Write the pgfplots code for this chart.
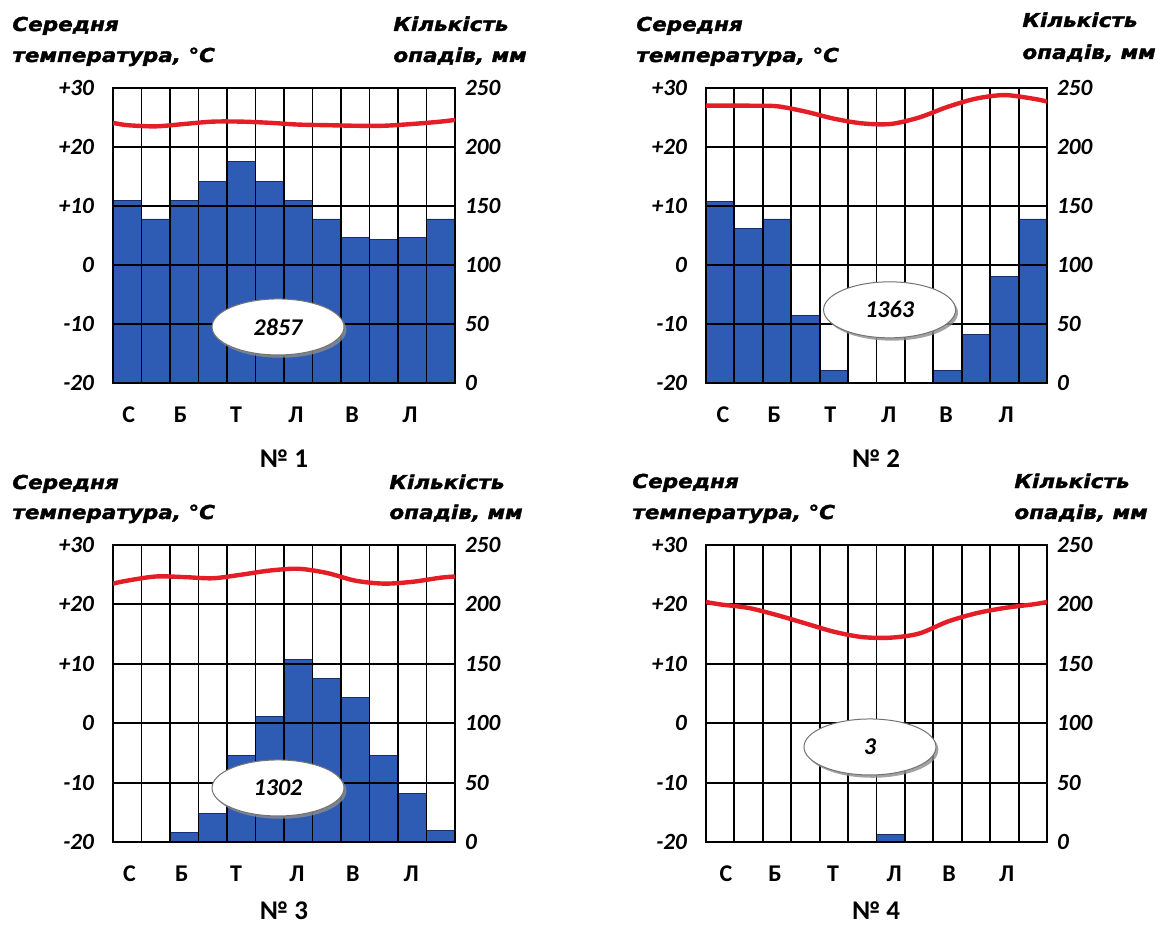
\documentclass[border=0pt]{standalone}
\usepackage{pgfplots}
\pgfplotsset{compat=1.18}
\usetikzlibrary{shapes.geometric,shadows}
\usepackage{fontspec}
\setmainfont{Carlito}
\newfontfamily\hdrfont[FakeStretch=1.12, FakeBold=1.6]{DejaVu Sans}
\newfontfamily\calfont{Carlito}
\definecolor{barblue}{RGB}{46,92,180}
\definecolor{baredge}{RGB}{25,45,110}
\definecolor{tline}{RGB}{228,30,38}
\newcommand{\hdr}{\hdrfont\bfseries\itshape\fontsize{9.6}{10}\selectfont}
\newcommand{\tickf}{\calfont\bfseries\itshape\fontsize{11.6}{12}\selectfont}
\newcommand{\monf}{\calfont\bfseries\fontsize{12}{13}\selectfont}
\newcommand{\numf}{\calfont\bfseries\fontsize{13.5}{15}\selectfont}
\newcommand{\ellf}{\calfont\bfseries\itshape\fontsize{12}{13}\selectfont}
\tikzset{
  oval/.style={ellipse, draw=black!55, line width=0.5pt, fill=white, minimum width=66pt, minimum height=28pt,
    inner sep=0pt, font=\ellf, drop shadow={shadow xshift=1.2pt, shadow yshift=-1.4pt, fill=black!45, opacity=0.8}}
}
\pgfplotsset{
  precip/.style={scale only axis, enlargelimits=false, xmin=0, xmax=12, ymin=0, ymax=250,
    hide x axis, axis y line*=right, ytick={0,50,...,250},
    yticklabels={0,50,100,150,200,250}, major tick length=0pt,
    yticklabel style={font=\tickf, anchor=west, xshift=1.5pt},
    axis line style={black, line width=1.2pt}},
  temp/.style={scale only axis, enlargelimits=false, xmin=0, xmax=12, ymin=-20, ymax=30,
    xtick={0,...,12}, xticklabels={}, ytick={-20,-10,...,30},
    yticklabels={-20,-10,0,+10,+20,+30},
    xtick pos=bottom, ytick pos=left,
    grid=major, major grid style={black, line width=0.95pt},
    axis line style={black, line width=1.2pt}, major tick length=0pt,
    yticklabel style={font=\tickf, anchor=east, xshift=-6pt},
    extra x tick labels={С,Б,Т,Л,В,Л},
    extra x tick style={grid=none, major tick length=0pt, xticklabel style={font=\monf, yshift=-8.5pt}}},
  bars/.style={ybar interval, fill=barblue, draw=baredge, line width=0.4pt},
  tcurve/.style={tline, line width=2.2pt, smooth, tension=0.5}
}
\begin{document}
\begin{tikzpicture}
\useasboundingbox (0pt,0pt) rectangle (585pt,463.5pt);
% ---------- Chart 1 ----------
\begin{axis}[precip, at={(56.5pt,272pt)}, anchor=south west, width=171pt, height=147.5pt]
\addplot[bars] coordinates {(0,155) (1,139) (2,155) (3,171) (4,188) (5,171) (6,155) (7,139) (8,123) (9,122) (10,123) (11,139) (12,139)};
\end{axis}
\begin{axis}[temp, at={(56.5pt,272pt)}, anchor=south west, width=171pt, height=147.5pt,
  extra x ticks={0.55,2.37,4.32,6.42,8.39,10.42}]
\addplot[tcurve] coordinates {(0,24.1) (0.5,23.7) (1.5,23.5) (2.5,23.9) (3.5,24.3) (4.5,24.3) (5.5,24.1) (6.5,23.8) (7.5,23.7) (8.5,23.6) (9.5,23.6) (10.5,23.9) (11.5,24.3) (12,24.6)};
\node[oval] at (axis cs:5.79,-10.5) {2857};
\end{axis}
\node[anchor=base west, inner sep=0pt, font=\hdr] at (6pt,448pt) {Середня};
\node[anchor=base west, inner sep=0pt, font=\hdr] at (6pt,432.5pt) {температура, °C};
\node[anchor=base west, inner sep=0pt, font=\hdr] at (196.5pt,448pt) {Кількість};
\node[anchor=base west, inner sep=0pt, font=\hdr] at (196.5pt,432.5pt) {опадів, мм};
\node[inner sep=0pt, font=\numf] at (142pt,234pt) {№ 1};
% ---------- Chart 2 ----------
\begin{axis}[precip, at={(353pt,272pt)}, anchor=south west, width=170.5pt, height=147.5pt]
\addplot[bars] coordinates {(0,154) (1,131) (2,139) (3,57) (4,11) (5,0) (6,0) (7,0) (8,11) (9,41) (10,90) (11,139) (12,139)};
\end{axis}
\begin{axis}[temp, at={(353pt,272pt)}, anchor=south west, width=170.5pt, height=147.5pt,
  extra x ticks={0.6,2.4,4.37,6.43,8.45,10.56}]
\addplot[tcurve] coordinates {(0,27.0) (0.5,27.0) (1.5,27.0) (2.5,26.9) (3.5,26.0) (4.5,24.8) (5.5,24.0) (6.5,23.9) (7.5,25.0) (8.5,26.8) (9.5,28.2) (10.5,28.8) (11.5,28.2) (12,27.7)};
\node[oval] at (axis cs:6.46,-7.6) {1363};
\end{axis}
\node[anchor=base west, inner sep=0pt, font=\hdr] at (318pt,448pt) {Середня};
\node[anchor=base west, inner sep=0pt, font=\hdr] at (318pt,432.5pt) {температура, °C};
\node[anchor=base west, inner sep=0pt, font=\hdr] at (511pt,450pt) {Кількість};
\node[anchor=base west, inner sep=0pt, font=\hdr] at (511pt,434pt) {опадів, мм};
\node[inner sep=0pt, font=\numf] at (438pt,234pt) {№ 2};
% ---------- Chart 3 ----------
\begin{axis}[precip, at={(56.5pt,42.5pt)}, anchor=south west, width=171pt, height=148.5pt]
\addplot[bars] coordinates {(0,0) (1,0) (2,8) (3,24) (4,73) (5,106) (6,154) (7,138) (8,122) (9,73) (10,41) (11,10) (12,10)};
\end{axis}
\begin{axis}[temp, at={(56.5pt,42.5pt)}, anchor=south west, width=171pt, height=148.5pt,
  extra x ticks={0.58,2.41,4.32,6.45,8.42,10.46}]
\addplot[tcurve] coordinates {(0,23.5) (0.5,24.0) (1.5,24.7) (2.5,24.6) (3.5,24.4) (4.5,25.0) (5.5,25.7) (6.5,26.0) (7.5,25.3) (8.5,24.0) (9.5,23.5) (10.5,23.8) (11.5,24.5) (12,24.7)};
\node[oval] at (axis cs:5.79,-10.9) {1302};
\end{axis}
\node[anchor=base west, inner sep=0pt, font=\hdr] at (6pt,219pt) {Середня};
\node[anchor=base west, inner sep=0pt, font=\hdr] at (6pt,204pt) {температура, °C};
\node[anchor=base west, inner sep=0pt, font=\hdr] at (194.5pt,219pt) {Кількість};
\node[anchor=base west, inner sep=0pt, font=\hdr] at (194.5pt,204pt) {опадів, мм};
\node[inner sep=0pt, font=\numf] at (142pt,8pt) {№ 3};
% ---------- Chart 4 ----------
\begin{axis}[precip, at={(353pt,42.5pt)}, anchor=south west, width=170.5pt, height=148.5pt]
\addplot[bars] coordinates {(0,0) (1,0) (2,0) (3,0) (4,0) (5,0) (6,6.5) (7,0) (8,0) (9,0) (10,0) (11,0) (12,0)};
\end{axis}
\begin{axis}[temp, at={(353pt,42.5pt)}, anchor=south west, width=170.5pt, height=148.5pt,
  extra x ticks={0.7,2.43,4.47,6.62,8.55,10.58}]
\addplot[tcurve] coordinates {(0,20.4) (0.5,20.0) (1.5,19.4) (2.5,18.2) (3.5,16.8) (4.5,15.4) (5.5,14.5) (6.5,14.4) (7.5,15.1) (8.5,17.1) (9.5,18.5) (10.5,19.4) (11.5,20.0) (12,20.4)};
\node[oval] at (axis cs:5.77,-4.0) {3};
\end{axis}
\node[anchor=base west, inner sep=0pt, font=\hdr] at (316pt,219.5pt) {Середня};
\node[anchor=base west, inner sep=0pt, font=\hdr] at (316pt,204pt) {температура, °C};
\node[anchor=base west, inner sep=0pt, font=\hdr] at (507pt,219.5pt) {Кількість};
\node[anchor=base west, inner sep=0pt, font=\hdr] at (507pt,204pt) {опадів, мм};
\node[inner sep=0pt, font=\numf] at (438pt,8pt) {№ 4};
\end{tikzpicture}
\end{document}
